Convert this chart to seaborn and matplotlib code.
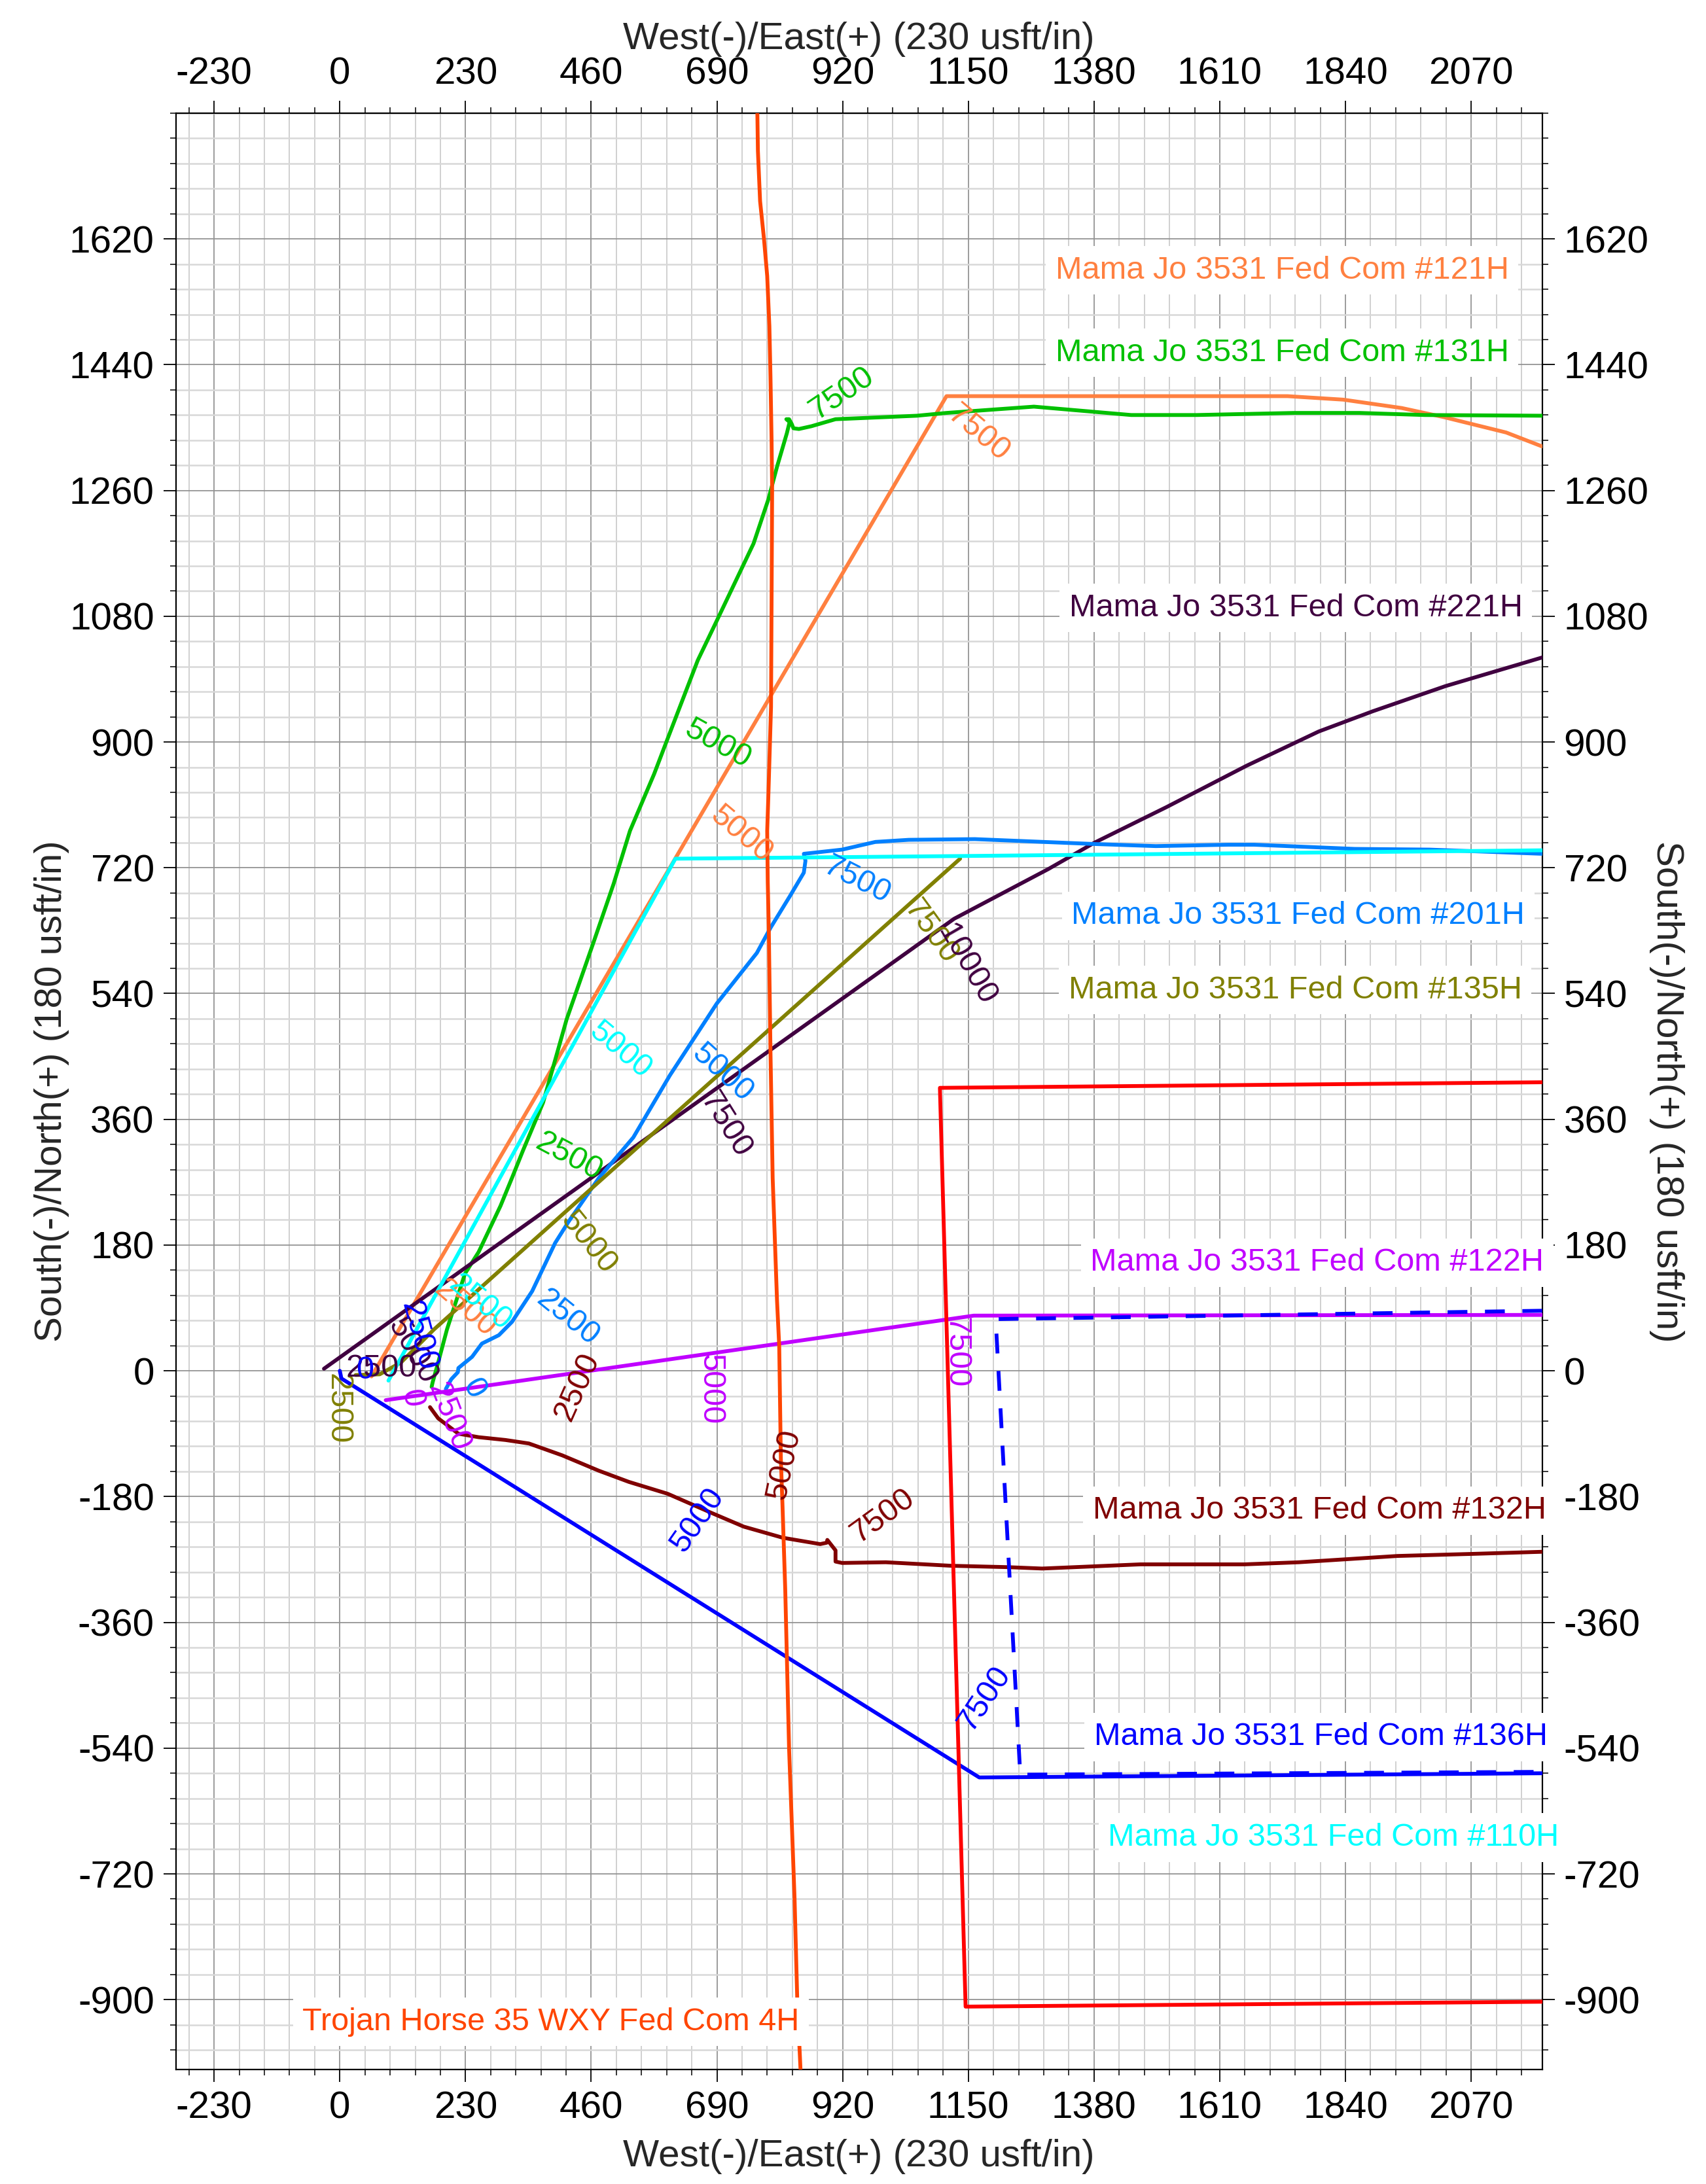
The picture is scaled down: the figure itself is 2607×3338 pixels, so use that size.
import matplotlib
matplotlib.use("Agg")
import matplotlib.pyplot as plt
import seaborn as sns
import numpy as np
from matplotlib.ticker import FixedLocator, MultipleLocator

sns.set_theme(style="white")
plt.rcParams['font.family'] = ['Liberation Sans', 'DejaVu Sans']
plt.rcParams['axes.unicode_minus'] = False

# ---------------- well trajectories (East/West, North/South in usft) ----------------
w121_x = [58, 1110, 1270, 1734, 1836, 1943, 2020, 2134, 2200]
w121_y = [-8, 1395, 1395, 1395, 1390, 1378, 1365, 1343, 1323]

w131_x = [168, 170, 180, 196, 229, 254, 294, 315, 335, 372, 415, 465, 501, 531, 575, 596, 655,
          690, 757, 784, 800, 818, 823, 817, 822, 827, 830, 840, 863, 907, 1056, 1110, 1270,
          1448, 1568, 1746, 1866, 1985, 2200]
w131_y = [-23, -16, 12, 59, 139, 170, 236, 276, 315, 384, 503, 615, 697, 773, 854, 897, 1017,
          1074, 1184, 1247, 1294, 1342, 1358, 1362, 1362, 1355, 1349, 1348, 1352, 1362, 1367, 1371, 1380,
          1368, 1368, 1371, 1371, 1368, 1367]

w221_x = [-29, 1124, 1296, 1381, 1513, 1659, 1791, 1890, 2023, 2200]
w221_y = [3, 647, 718, 756, 807, 866, 915, 944, 980, 1021]

w201_x = [194, 204, 216, 217, 242, 260, 291, 315, 352, 394, 419, 474, 537, 604, 690, 763, 788,
          824, 849, 852, 849, 861, 919, 980, 1041, 1162, 1381, 1493, 1625, 1673, 1857, 1994, 2200]
w201_y = [-26, -12, -2, 4, 20, 39, 51, 70, 114, 183, 214, 276, 334, 423, 526, 598, 634,
          680, 713, 730, 740, 741, 746, 757, 760, 761, 754, 751, 753, 753, 747, 746, 740]

w135_x = [29, 73, 112, 172, 1135]
w135_y = [-6, -5, 12, 59, 733]

w122_x = [84, 1160, 2200]
w122_y = [-42, 79, 80]

w132_x = [165, 180, 217, 254, 303, 346, 407, 474, 529, 600, 679, 739, 811, 879, 891, 892, 907,
          907, 919, 999, 1118, 1222, 1285, 1465, 1655, 1755, 1935, 2073, 2200]
w132_y = [-52, -68, -90, -95, -99, -104, -121, -143, -159, -176, -203, -223, -239, -248, -246, -242, -257,
          -273, -275, -274, -279, -281, -283, -277, -277, -274, -265, -262, -259]

w136_x = [0, 3, 1170, 2200]
w136_y = [0, -11, -582, -576]

w136_plan_x = [2200, 1200, 1245, 2200]
w136_plan_y = [86, 74, -578, -574]

w110_x = [89, 614, 1162, 2200]
w110_y = [-14, 733, 737, 745]

trojan_x = [764, 765, 769, 776, 782, 786, 788, 790, 791, 790, 789, 784, 782, 783, 785, 788, 792,
            800, 804, 807, 810, 815, 822, 832, 837, 843]
trojan_y = [1800, 1746, 1674, 1621, 1567, 1495, 1423, 1333, 1261, 1100, 950, 820, 773, 700, 628, 457, 276,
            100, 35, -126, -193, -313, -540, -754, -900, -1001]

lease_x = [2200, 1098, 1145, 2200]
lease_y = [413, 405, -910, -903]

# well name labels (right edge x, centre y)
label_text = ["Mama Jo 3531 Fed Com #121H", "Mama Jo 3531 Fed Com #131H",
              "Mama Jo 3531 Fed Com #221H", "Mama Jo 3531 Fed Com #201H",
              "Mama Jo 3531 Fed Com #135H", "Mama Jo 3531 Fed Com #122H",
              "Mama Jo 3531 Fed Com #132H", "Mama Jo 3531 Fed Com #136H",
              "Mama Jo 3531 Fed Com #110H", "Trojan Horse 35 WXY Fed Com 4H"]
label_x = [2139, 2139, 2164, 2168, 2163, 2203, 2207, 2210, 2231, 841]
label_y = [1575, 1457, 1092, 651, 545, 155, -200, -524, -668, -932]

C121, C131, C221, C201 = "#FF8040", "#00C000", "#400040", "#0080FF"
C135, C122, C132, C136 = "#808000", "#C000FF", "#800000", "#0000FF"
C110, CTROJAN, CLEASE = "#00FFFF", "#FF4500", "#FF0000"
label_color = [C121, C131, C221, C201, C135, C122, C132, C136, C110, CTROJAN]

# measured-depth annotations along each path
depth_marks = [
    ("7500", 918, 1399, 34, C131), ("5000", 691, 897, -29, C131), ("2500", 419, 306, -28, C131),
    ("7500", 1168, 1342, -40, C121), ("5000", 734, 768, -40, C121), ("2500", 229, 89, -41, C121),
    ("7500", 1081, 628, -54, C135), ("5000", 454, 184, -51, C135), ("2500", -4, -54, -90, C135),
    ("10000", 1146, 581, -60, C221), ("7500", 706, 352, -58, C221), ("5000", 132, 29, -60, C221),
    ("2500", 76, 3, 0, C221),
    ("7500", 1179, -469, 56, C136), ("5000", 654, -214, 55, C136), ("2500", 144, 50, -75, C136),
    ("0", 46, 1, 0, C136),
    ("7500", 1127, 26, -90, C122), ("5000", 678, -26, -90, C122), ("2500", 199, -66, -69, C122),
    ("0", 131, -39, -80, C122),
    ("7500", 993, -208, 36, C132), ("5000", 813, -134, 78, C132), ("2500", 434, -23, 66, C132),
    ("5000", 513, 459, -40, C110), ("2500", 257, 97, -39, C110),
    ("7500", 946, 702, -27, C201), ("5000", 700, 426, -42, C201), ("2500", 417, 76, -39, C201),
    ("0", 245, -26, -60, C201),
]

xticks = list(range(-230, 2071, 230))
yticks = list(range(-900, 1621, 180))

# ---------------- figure ----------------
W, H = 2607, 3338
fig = plt.figure(figsize=(W / 100, H / 100), dpi=100, facecolor="white")
ax = fig.add_axes([268.7 / W, 1 - 3163 / H, 2088 / W, 2990 / H])
ax.set_facecolor("white")

LW = 4.2


def draw_path(xs, ys, color, z, dashed=False):
    sns.lineplot(x=xs, y=ys, sort=False, estimator=None, color=color, linewidth=LW, ax=ax)
    ln = ax.lines[-1]
    ln.set_linewidth(LW)
    ln.set_zorder(z)
    ln.set_solid_joinstyle("round")
    ln.set_solid_capstyle("round")
    if dashed:
        ln.set_dashes([5.2, 4.6])
    return ln


paths = [
    (w121_x, w121_y, C121), (w131_x, w131_y, C131), (w221_x, w221_y, C221),
    (w201_x, w201_y, C201), (w135_x, w135_y, C135), (w122_x, w122_y, C122),
    (w132_x, w132_y, C132), (w136_x, w136_y, C136), (w110_x, w110_y, C110),
]
for xs, ys, c in paths:
    draw_path(xs, ys, c, 3)

draw_path(w136_plan_x, w136_plan_y, C136, 3.5, dashed=True)
draw_path(lease_x, lease_y, CLEASE, 4)
draw_path(trojan_x, trojan_y, CTROJAN, 4)

for s, x, y, r, c in depth_marks:
    ax.text(x, y, s, rotation=r, rotation_mode="anchor", ha="center", va="center",
            color=c, fontsize=35, zorder=5)

for s, x, y, c in zip(label_text, label_x, label_y, label_color):
    ax.text(x, y, s, ha="right", va="center", color=c, fontsize=35, zorder=6,
            bbox=dict(boxstyle="square,pad=0.3", fc="white", ec="none"))

# ---------------- axes styling ----------------
ax.set_xlim(-300, 2200)
ax.set_ylim(-1000, 1800)
ax.xaxis.set_major_locator(FixedLocator(xticks))
ax.yaxis.set_major_locator(FixedLocator(yticks))
ax.xaxis.set_minor_locator(MultipleLocator(46))
ax.yaxis.set_minor_locator(MultipleLocator(36))
ax.set_xticklabels([str(v) for v in xticks])
ax.set_yticklabels([str(v) for v in yticks])

ax.set_axisbelow(True)
ax.grid(which="major", color="#949494", lw=1.3)
ax.xaxis.grid(which="minor", color="#c8c8c8", lw=1.2)
ax.yaxis.grid(which="minor", color="#d8d8d8", lw=1.8)

ax.tick_params(which="both", direction="out", top=True, right=True, bottom=True, left=True,
               labeltop=True, labelright=True, labelbottom=True, labelleft=True,
               colors="black")
ax.tick_params(which="major", length=13.7, width=1.3, labelsize=42, pad=10)
ax.tick_params(which="minor", length=6.5, width=1.1)
for sp in ax.spines.values():
    sp.set_visible(True)
    sp.set_color("black")
    sp.set_linewidth(1.6)

ax.set_xlabel("")
ax.set_ylabel("")
xt = "West(-)/East(+) (230 usft/in)"
yt = "South(-)/North(+) (180 usft/in)"
ax.text(0.5, -0.0445, xt, transform=ax.transAxes, ha="center", va="center", fontsize=42)
ax.text(0.5, 1.0379, xt, transform=ax.transAxes, ha="center", va="center", fontsize=42)
ax.text(-0.091, 0.5, yt, transform=ax.transAxes, ha="center", va="center", fontsize=42,
        rotation=90)
ax.text(1.0911, 0.5, yt, transform=ax.transAxes, ha="center", va="center", fontsize=42,
        rotation=-90)

fig.savefig("out.png", dpi=100, facecolor="white")
